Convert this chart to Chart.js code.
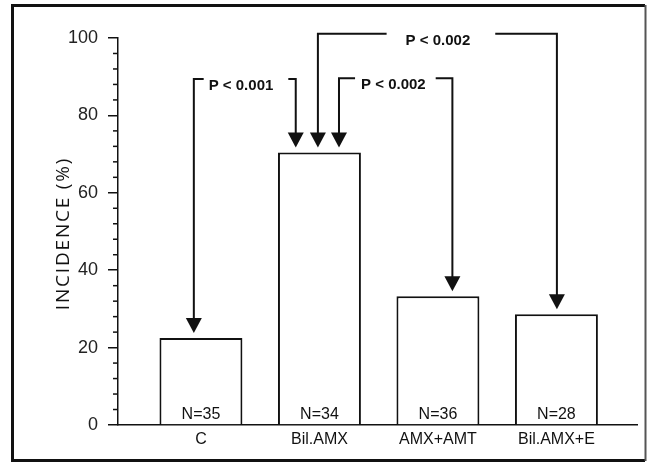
<!DOCTYPE html>
<html><head><meta charset="utf-8">
<script src="https://cdn.jsdelivr.net/npm/chart.js@4.4.1/dist/chart.umd.min.js"></script>
<style>html,body{margin:0;padding:0;background:#fff}#wrap{width:648px;height:463px}</style>
</head><body><div id="wrap"><canvas id="c" width="648" height="463"></canvas></div>
<script>
// ---- data ----
const categories = ['C', 'Bil.AMX', 'AMX+AMT', 'Bil.AMX+E'];
const incidence = [22.5, 70.4, 33.3, 28.6];
const sampleSizes = ['N=35', 'N=34', 'N=36', 'N=28'];
const yTicks = [0, 20, 40, 60, 80, 100];
const yTitle = 'INCIDENCE (%)';
// comparison brackets (x in category units, top in % units)
const bracketLabels = ['P < 0.001', 'P < 0.002', 'P < 0.002'];
const bracketLeftX = [-0.06, 1.165, 0.987];
const bracketRightX = [0.80, 2.122, 3.004];
const bracketTop = [89.4, 89.6, 101.1];
const bracketLabelX = [0.338, 1.624, 2.0];
const bracketLeftTarget = [0, 1, 1];
const bracketRightTarget = [1, 2, 3];

// ---- styles ----
const FONT = '"Liberation Sans", Arial, sans-serif';
const INK = '#111';
const bracketGaps = [[5, 15], [6, 10], [19, 25]];

const annot = {
  id: 'annot',
  afterDraw(chart) {
    const ctx = chart.ctx;
    const x = chart.scales.x, y = chart.scales.y;
    const ca = chart.chartArea;
    ctx.save();
    // minor ticks
    ctx.strokeStyle = INK; ctx.lineWidth = 1.5;
    for (let v = 0; v <= 100; v += 4) {
      if (v % 20 === 0) continue;
      const py = y.getPixelForValue(v);
      ctx.beginPath(); ctx.moveTo(ca.left - 5, py); ctx.lineTo(ca.left, py); ctx.stroke();
    }
    // N labels
    ctx.fillStyle = INK;
    ctx.font = '16px ' + FONT;
    ctx.textAlign = 'center'; ctx.textBaseline = 'alphabetic';
    categories.forEach((c, i) => {
      ctx.fillText(sampleSizes[i], x.getPixelForValue(i), y.getPixelForValue(0) - 6);
    });
    // brackets
    ctx.font = 'bold 15px ' + FONT;
    ctx.lineWidth = 2; ctx.strokeStyle = INK;
    const arrow = (px, tipY) => {
      ctx.beginPath();
      ctx.moveTo(px, tipY); ctx.lineTo(px - 8, tipY - 15); ctx.lineTo(px + 8, tipY - 15); ctx.closePath();
      ctx.fill();
    };
    bracketLabels.forEach((lab, k) => {
      const xl = x.getPixelForValue(bracketLeftX[k]);
      const xr = x.getPixelForValue(bracketRightX[k]);
      const top = y.getPixelForValue(bracketTop[k]);
      const lc = x.getPixelForValue(bracketLabelX[k]);
      const w = ctx.measureText(lab).width;
      const tipL = y.getPixelForValue(incidence[bracketLeftTarget[k]]) - 5;
      const tipR = y.getPixelForValue(incidence[bracketRightTarget[k]]) - 5;
      ctx.beginPath();
      ctx.moveTo(xl, tipL - 14); ctx.lineTo(xl, top); ctx.lineTo(lc - w / 2 - bracketGaps[k][0], top);
      ctx.moveTo(lc + w / 2 + bracketGaps[k][1], top); ctx.lineTo(xr, top); ctx.lineTo(xr, tipR - 14);
      ctx.stroke();
      arrow(xl, tipL); arrow(xr, tipR);
      ctx.fillText(lab, lc, top + 11);
    });
    // y title
    ctx.save();
    ctx.translate(64, (ca.top + ca.bottom) / 2 + 2);
    ctx.rotate(-Math.PI / 2);
    ctx.font = '19px "Open Sans", sans-serif';
    ctx.letterSpacing = '1.8px';
    ctx.textAlign = 'center'; ctx.textBaseline = 'middle';
    ctx.fillStyle = INK;
    ctx.fillText(yTitle, 0, 0);
    ctx.restore();
    // frame
    ctx.lineWidth = 3; ctx.strokeStyle = INK;
    ctx.beginPath();
    ctx.moveTo(645, 5.5); ctx.lineTo(12.5, 5.5); ctx.lineTo(12.5, 460.5); ctx.lineTo(645, 460.5);
    ctx.stroke();
    ctx.lineWidth = 2; ctx.strokeStyle = '#555';
    ctx.beginPath(); ctx.moveTo(645.5, 5); ctx.lineTo(645.5, 461); ctx.stroke();
    ctx.restore();
  }
};

new Chart(document.getElementById('c'), {
  type: 'bar',
  data: {
    datasets: [{
      data: categories.map((c, i) => ({ x: i, y: incidence[i] })),
      backgroundColor: '#fff', borderColor: INK, borderWidth: 2, borderSkipped: 'bottom',
      categoryPercentage: 1, barPercentage: 0.70
    }]
  },
  options: {
    responsive: false, animation: false,
    layout: { padding: { top: 38, right: 11, left: 0, bottom: 0 } },
    plugins: { legend: { display: false }, tooltip: { enabled: false } },
    scales: {
      x: {
        type: 'linear', min: -0.7, max: 3.68, offset: false,
        afterBuildTicks: s => { s.ticks = categories.map((c, i) => ({ value: i })); },
        ticks: { callback: v => categories[v], font: { size: 16, family: FONT }, color: INK, padding: 5, maxRotation: 0, autoSkip: false },
        grid: { display: false, drawTicks: false, offset: false },
        border: { display: true, color: INK, width: 1.5 },
        afterFit: s => { s.height = 38; }
      },
      y: {
        min: 0, max: 100,
        afterBuildTicks: s => { s.ticks = yTicks.map(v => ({ value: v })); },
        ticks: { font: { size: 18, family: FONT }, color: '#222', padding: 10 },
        grid: { drawOnChartArea: false, tickLength: 10, color: INK, lineWidth: 1.5 },
        border: { color: INK, width: 1.5 },
        afterFit: s => { s.width = 118; }
      }
    }
  },
  plugins: [annot]
});
</script></body></html>
